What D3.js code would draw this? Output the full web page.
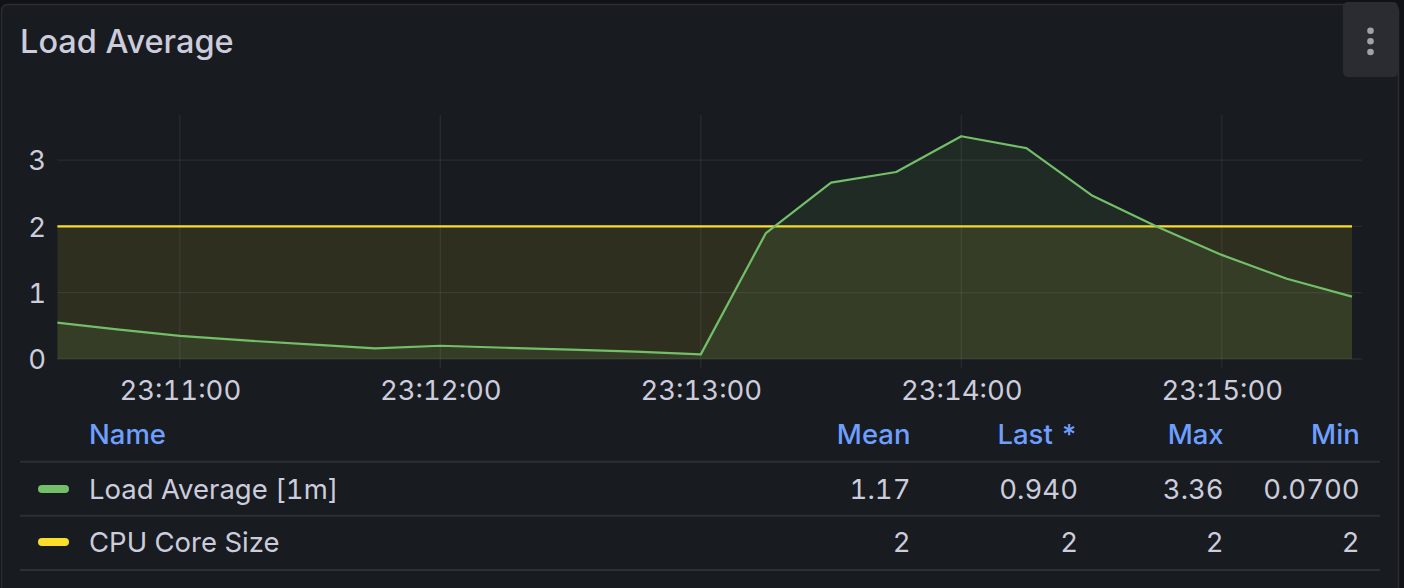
<!DOCTYPE html>
<html>
<head>
<meta charset="utf-8">
<script src="https://cdn.jsdelivr.net/npm/d3@7"></script>
<style>
  html, body { margin: 0; padding: 0; background: #111217; }
  svg { display: block; }
  text { font-family: Inter, "Noto Sans", sans-serif; font-variant-numeric: tabular-nums; font-feature-settings: "tnum" 1; }
</style>
</head>
<body>
<svg id="chart" width="1404" height="588"></svg>
<script>
// ---- data ----
const times = ["23:10:30","23:10:45","23:11:00","23:11:15","23:11:30","23:11:45","23:12:00",
  "23:12:15","23:12:30","23:12:45","23:13:00","23:13:15","23:13:30","23:13:45","23:14:00",
  "23:14:15","23:14:30","23:14:45","23:15:00","23:15:15","23:15:30"];
const loadAverage1m = [0.56,0.45,0.35,0.28,0.22,0.16,0.20,0.17,0.14,0.11,0.07,1.90,2.66,2.82,3.36,3.18,2.47,2.00,1.57,1.21,0.94];
const cpuCoreSize = [2,2,2,2,2,2,2,2,2,2,2,2,2,2,2,2,2,2,2,2,2];
const timeRange = ["23:10:31.8","23:15:32.3"];
const xTickLabels = ["23:11:00","23:12:00","23:13:00","23:14:00","23:15:00"];
const yTickValues = [0,1,2,3];
const yMax = 3.68;

const legendNames = ["Load Average [1m]","CPU Core Size"];
const legendColors = ["#73bf69","#fade2a"];
const legendColumns = ["Mean","Last *","Max","Min"];
const legendMean = ["1.17","2"];
const legendLast = ["0.940","2"];
const legendMax = ["3.36","2"];
const legendMin = ["0.0700","2"];

// ---- drawing ----
const svg = d3.select("#chart");
const parse = d3.timeParse("%H:%M:%S");
const parseMs = d3.timeParse("%H:%M:%S.%L");
const pt = s => parse(s) || parseMs(s + "00");

const plot = {left: 57.4, right: 1362, top: 115, bottom: 359};
const x = d3.scaleTime().domain(timeRange.map(s => parseMs(s + "00"))).range([plot.left, plot.right]);
const y = d3.scaleLinear().domain([0, yMax]).range([plot.bottom, plot.top]);

const textColor = "#ccccdc";
const gridColor = "rgba(204,204,220,0.09)";
const fontFam = "Inter, 'Noto Sans', sans-serif";

// panel
svg.append("rect").attr("x", 1.5).attr("y", 4.5).attr("width", 1397).attr("height", 620)
  .attr("rx", 6).attr("fill", "#181b1f").attr("stroke", "#2a2d33").attr("stroke-width", 1.5);

// title
svg.append("text").attr("x", 20).attr("y", 52.5).attr("fill", textColor)
  .attr("font-size", 32.5).attr("font-weight", 500).text("Load Average");

// menu button
svg.append("rect").attr("x", 1343).attr("y", 2).attr("width", 55).attr("height", 75).attr("rx", 5)
  .attr("fill", "#2a2c31");
svg.selectAll("circle.menu").data([30.7, 41.3, 52]).enter().append("circle")
  .attr("cx", 1370.5).attr("cy", d => d).attr("r", 3.3).attr("fill", "#a0a1ab");

// grid
const xTickDates = xTickLabels.map(pt);
svg.append("g").selectAll("line").data(xTickDates).enter().append("line")
  .attr("x1", d => x(d)).attr("x2", d => x(d)).attr("y1", plot.top).attr("y2", plot.bottom + 9)
  .attr("stroke", gridColor).attr("stroke-width", 1.3);
svg.append("g").selectAll("line").data(yTickValues).enter().append("line")
  .attr("x1", plot.left).attr("x2", plot.right).attr("y1", d => y(d)).attr("y2", d => y(d))
  .attr("stroke", gridColor).attr("stroke-width", 1.3);

// clip
svg.append("clipPath").attr("id", "plotclip").append("rect")
  .attr("x", plot.left).attr("y", plot.top - 5).attr("width", plot.right - plot.left).attr("height", plot.bottom - plot.top + 10);

const series = [
  {values: cpuCoreSize, color: legendColors[1]},
  {values: loadAverage1m, color: legendColors[0]}
];
const g = svg.append("g").attr("clip-path", "url(#plotclip)");
series.forEach(s => {
  const pts = times.map((t, i) => ({t: pt(t), v: s.values[i]}));
  const area = d3.area().x(d => x(d.t)).y0(y(0)).y1(d => y(d.v));
  const line = d3.line().x(d => x(d.t)).y(d => y(d.v));
  g.append("path").datum(pts).attr("d", area).attr("fill", s.color).attr("fill-opacity", 0.1);
  g.append("path").datum(pts).attr("d", line).attr("fill", "none").attr("stroke", s.color)
    .attr("stroke-width", 2.2).attr("stroke-linejoin", "round");
});

// axes labels
const xAxis = d3.axisBottom(x).tickValues(xTickDates).tickFormat(d3.timeFormat("%H:%M:%S")).tickSize(0).tickPadding(0);
const xg = svg.append("g").attr("transform", `translate(0,${plot.bottom + 41})`).call(xAxis);
xg.select(".domain").remove();
xg.selectAll("text").attr("fill", textColor).attr("font-size", 27.5).attr("dy", 0).attr("y", 0)
  .attr("font-family", fontFam);

const yAxis = d3.axisLeft(y).tickValues(yTickValues).tickFormat(d3.format("d")).tickSize(0).tickPadding(0);
const yg = svg.append("g").attr("transform", `translate(46,0)`).call(yAxis);
yg.select(".domain").remove();
yg.selectAll("text").attr("fill", textColor).attr("font-size", 27.5).attr("dy", "0.36em")
  .attr("font-family", fontFam);

// legend table
const lg = svg.append("g");
const headerY = 434, rowYs = [489, 542], sepYs = [461.7, 515.7, 570];
const colRight = [910.5, 1078, 1223.7, 1359.7];
const blue = "#6e9fff";
lg.append("text").attr("x", 89).attr("y", headerY).attr("dy", "0.36em").attr("fill", blue)
  .attr("font-size", 27.5).attr("font-weight", 500).text("Name");
lg.selectAll("text.col").data(legendColumns).enter().append("text")
  .attr("x", (d, i) => colRight[i]).attr("y", headerY).attr("dy", "0.36em").attr("text-anchor", "end")
  .attr("fill", blue).attr("font-size", 27.5).attr("font-weight", 500).text(d => d);
lg.selectAll("line.sep").data(sepYs).enter().append("line")
  .attr("x1", 20).attr("x2", 1380).attr("y1", d => d).attr("y2", d => d)
  .attr("stroke", "#2c2f35").attr("stroke-width", 2);
const cols = [legendMean, legendLast, legendMax, legendMin];
legendNames.forEach((name, r) => {
  lg.append("rect").attr("x", 38).attr("y", rowYs[r] - 4).attr("width", 31).attr("height", 8).attr("rx", 4)
    .attr("fill", legendColors[r]);
  lg.append("text").attr("x", 89).attr("y", rowYs[r]).attr("dy", "0.36em").attr("fill", textColor)
    .attr("font-size", 27.5).text(name);
  cols.forEach((c, ci) => {
    lg.append("text").attr("x", colRight[ci]).attr("y", rowYs[r]).attr("dy", "0.36em").attr("text-anchor", "end")
      .attr("fill", textColor).attr("font-size", 27.5).text(c[r]);
  });
});
</script>
</body>
</html>
